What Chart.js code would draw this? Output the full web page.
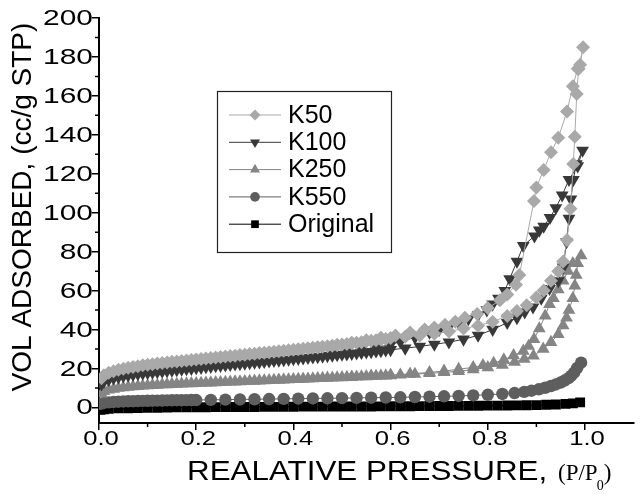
<!DOCTYPE html>
<html>
<head>
<meta charset="utf-8">
<script src="https://cdn.jsdelivr.net/npm/chart.js@4.4.0/dist/chart.umd.min.js"></script>
<style>
  html, body { margin: 0; padding: 0; background: #fff; }
  #wrap { width: 641px; height: 494px; }
</style>
</head>
<body>
<div id="wrap"><canvas id="chart" width="641" height="494"></canvas></div>
<script>
(function() {
    'use strict';

    // tick values / labels
    var xTickValues = [0, 0.2, 0.4, 0.6, 0.8, 1.0];
    var xTickLabels = ['0.0', '0.2', '0.4', '0.6', '0.8', '1.0'];
    var xMinorTicks = [0.1, 0.3, 0.5, 0.7, 0.9];
    var yTickValues = [0, 20, 40, 60, 80, 100, 120, 140, 160, 180, 200];
    var yTickLabels = ['0', '20', '40', '60', '80', '100', '120', '140', '160', '180', '200'];
    var yMinorTicks = [10, 30, 50, 70, 90, 110, 130, 150, 170, 190];

    var seriesNames = ['K50', 'K100', 'K250', 'K550', 'Original'];

    // shared low-pressure part of the adsorption runs (K50, K100, K250)
    var lowP = [0.005, 0.01, 0.02, 0.03, 0.04, 0.05, 0.06, 0.07, 0.08, 0.09, 0.10,
        0.11, 0.12, 0.13, 0.14, 0.15, 0.16, 0.17, 0.18, 0.19, 0.20,
        0.21, 0.22, 0.23, 0.24, 0.25, 0.26, 0.27, 0.28, 0.29, 0.30,
        0.31, 0.32, 0.33, 0.34, 0.35, 0.36, 0.37, 0.38, 0.39, 0.40,
        0.41, 0.42, 0.43, 0.44, 0.45, 0.46, 0.47, 0.48, 0.49, 0.50,
        0.51, 0.52, 0.53, 0.54, 0.55, 0.56, 0.57, 0.58, 0.59, 0.60];

    // K50
    var k50Low = [15, 16.5, 17.8, 18.6, 19.3, 19.9, 20.4, 20.8, 21.2, 21.6, 21.9,
        22.2, 22.5, 22.8, 23.1, 23.4, 23.6, 23.9, 24.1, 24.4, 24.6,
        24.9, 25.1, 25.4, 25.6, 25.9, 26.1, 26.4, 26.6, 26.9, 27.1,
        27.4, 27.6, 27.9, 28.1, 28.4, 28.6, 28.9, 29.1, 29.4, 29.6,
        29.9, 30.1, 30.4, 30.6, 30.9, 31.1, 31.4, 31.7, 32.0, 32.3,
        32.6, 32.9, 33.2, 33.5, 33.9, 34.2, 34.5, 34.9, 35.2, 35.6];
    var k50HighP = [0.63, 0.66, 0.69, 0.72, 0.75, 0.78, 0.81, 0.84, 0.86, 0.88,
        0.90, 0.915, 0.93, 0.945, 0.955, 0.963, 0.970, 0.976, 0.979, 0.983, 0.987, 0.996];
    var k50HighV = [36.3, 37, 37.8, 39, 40.5, 42, 44, 47, 49.5, 52.5,
        56.5, 60, 65, 70, 75, 86, 102, 125, 139, 161, 174, 185];
    var k50DesP = [0.99, 0.985, 0.975, 0.963, 0.945, 0.93, 0.915, 0.90, 0.895, 0.865, 0.858, 0.84,
        0.825, 0.80, 0.778, 0.753, 0.733, 0.712, 0.69, 0.67, 0.64, 0.61, 0.58, 0.55, 0.52, 0.49, 0.45];
    var k50DesV = [176, 174, 165, 152, 138.5, 131, 122, 113, 106, 68, 63, 58,
        55, 51, 48, 46, 44, 42.5, 41, 40, 38.5, 37, 35.8, 34.5, 33.2, 32, 30.8];

    // K100
    var k100Low = [12, 13.2, 14.3, 15.0, 15.6, 16.1, 16.5, 16.9, 17.2, 17.5, 17.8,
        18.0, 18.3, 18.5, 18.8, 19.0, 19.3, 19.5, 19.8, 20.0, 20.3,
        20.5, 20.8, 21.0, 21.3, 21.5, 21.7, 22.0, 22.2, 22.4, 22.6,
        22.9, 23.1, 23.3, 23.5, 23.8, 24.0, 24.2, 24.4, 24.7, 24.9,
        25.1, 25.3, 25.6, 25.8, 26.0, 26.2, 26.5, 26.7, 27.0, 27.2,
        27.4, 27.6, 27.9, 28.1, 28.4, 28.6, 28.9, 29.1, 29.4, 29.6];
    var k100HighP = [0.63, 0.66, 0.69, 0.72, 0.75, 0.78, 0.81, 0.84, 0.86, 0.876,
        0.893, 0.91, 0.927, 0.945, 0.955, 0.962, 0.967, 0.971, 0.976, 0.982, 0.995];
    var k100HighV = [30.4, 31.3, 32.4, 33.5, 35, 37, 40, 43.5, 46, 49,
        51.5, 56, 61, 65, 72, 85, 97, 107, 117, 125, 132];
    var k100DesP = [0.985, 0.967, 0.953, 0.94, 0.928, 0.915, 0.906, 0.896, 0.873, 0.86, 0.845, 0.835,
        0.822, 0.81, 0.798, 0.78, 0.76, 0.74, 0.72, 0.70, 0.68, 0.65, 0.62, 0.60, 0.57, 0.54, 0.51, 0.48];
    var k100DesV = [124, 117, 109, 102.5, 97.5, 93, 91, 88, 83, 75, 66, 60,
        56, 53, 50, 47.5, 45.5, 43.5, 41.5, 40, 38.5, 36, 33.8, 32.3, 30.8, 29.6, 28.5, 27.5];

    // K250
    var k250Low = [7.0, 8.3, 9.0, 9.5, 9.9, 10.2, 10.5, 10.7, 10.9, 11.1, 11.2,
        11.4, 11.5, 11.7, 11.8, 11.9, 12.0, 12.1, 12.2, 12.3, 12.4,
        12.5, 12.6, 12.7, 12.8, 12.9, 13.0, 13.1, 13.2, 13.3, 13.4,
        13.5, 13.6, 13.7, 13.8, 13.9, 14.0, 14.1, 14.2, 14.3, 14.4,
        14.5, 14.6, 14.7, 14.8, 14.9, 15.0, 15.1, 15.2, 15.3, 15.4,
        15.5, 15.6, 15.7, 15.8, 15.9, 16.0, 16.1, 16.2, 16.3, 16.4];
    var k250HighP = [0.62, 0.65, 0.68, 0.71, 0.74, 0.77, 0.80, 0.83, 0.855, 0.875, 0.894,
        0.914, 0.93, 0.945, 0.955, 0.962, 0.967, 0.975, 0.979, 0.982, 0.985, 0.992];
    var k250HighV = [16.7, 17.1, 17.5, 18, 18.6, 19.4, 20.5, 21.8, 23.3, 24.8, 26.5,
        30, 33.5, 37.5, 42, 46, 50, 56, 62.5, 68, 74, 78];
    var k250DesP = [0.975, 0.965, 0.955, 0.945, 0.935, 0.927, 0.918, 0.906, 0.895, 0.884, 0.873, 0.853,
        0.833, 0.812, 0.79, 0.77, 0.74, 0.71, 0.68, 0.64, 0.60, 0.56, 0.52];
    var k250DesV = [74, 70, 65, 60.5, 56, 53, 47, 40.5, 35, 31.5, 29, 26.7,
        24.5, 22.8, 21.6, 20.6, 19.6, 18.7, 18, 17.2, 16.6, 16.1, 15.6];

    // K550
    var k550P = [0.003, 0.01, 0.02, 0.03, 0.04, 0.05, 0.06, 0.07, 0.08, 0.09, 0.10,
        0.11, 0.12, 0.13, 0.14, 0.15, 0.16, 0.17, 0.18, 0.19, 0.20,
        0.23, 0.26, 0.29, 0.32, 0.35, 0.38, 0.41, 0.44, 0.47, 0.50, 0.53, 0.56, 0.59, 0.62, 0.65,
        0.68, 0.71, 0.74, 0.77, 0.80, 0.83, 0.855, 0.875, 0.89, 0.905, 0.918, 0.93, 0.94, 0.95,
        0.958, 0.966, 0.972, 0.978, 0.984, 0.992];
    var k550V = [1.8, 2.3, 2.6, 2.8, 2.95, 3.05, 3.15, 3.2, 3.3, 3.35, 3.4,
        3.45, 3.5, 3.55, 3.6, 3.65, 3.7, 3.72, 3.75, 3.78, 3.8,
        3.9, 4, 4.1, 4.2, 4.3, 4.4, 4.5, 4.6, 4.7, 4.8, 4.9, 5, 5.1, 5.2, 5.35,
        5.5, 5.7, 5.9, 6.2, 6.5, 6.9, 7.4, 8, 8.6, 9.3, 10.1, 11, 11.8, 12.8,
        13.8, 15, 16.3, 18, 20.3, 23];

    // Original
    var origP = [0.003, 0.01, 0.02, 0.04, 0.06, 0.08, 0.10, 0.12, 0.14, 0.16, 0.18, 0.20,
        0.22, 0.24, 0.26, 0.28, 0.30, 0.32, 0.34, 0.36, 0.38, 0.40, 0.42, 0.44, 0.46, 0.48, 0.50,
        0.52, 0.54, 0.56, 0.58, 0.60, 0.62, 0.64, 0.66, 0.68, 0.70, 0.72, 0.74, 0.76, 0.78, 0.80,
        0.82, 0.84, 0.86, 0.88, 0.90, 0.92, 0.94, 0.96, 0.975, 0.99];
    var origV = [-1.2, -0.9, -0.7, -0.5, -0.4, -0.3, -0.2, -0.15, -0.1, 0, 0.05, 0.05,
        0.1, 0.15, 0.15, 0.2, 0.25, 0.25, 0.3, 0.3, 0.3, 0.35, 0.4, 0.4, 0.4, 0.45, 0.45,
        0.5, 0.5, 0.5, 0.55, 0.6, 0.6, 0.6, 0.65, 0.7, 0.7, 0.75, 0.8, 0.8, 0.85, 0.9,
        0.9, 1.0, 1.05, 1.1, 1.2, 1.35, 1.5, 1.8, 2.1, 2.6];

    var FONT = '"Liberation Sans", Arial, sans-serif';
    var SERIF = '"Liberation Serif", "Times New Roman", serif';

    function toPoints(runs) {
        var pts = [];
        runs.forEach(function(run) {
            for (var i = 0; i < run[0].length; i++) pts.push({ x: run[0][i], y: run[1][i] });
        });
        return pts;
    }

    function makeSet(name, pts, color, style, rotation, radius) {
        return {
            label: name,
            data: pts,
            showLine: true,
            borderColor: color,
            borderWidth: 1,
            backgroundColor: color,
            pointBackgroundColor: color,
            pointBorderColor: color,
            pointBorderWidth: 0,
            pointStyle: style,
            pointRotation: rotation,
            pointRadius: radius,
            pointHoverRadius: radius,
            tension: 0
        };
    }

    var datasets = [
        makeSet(seriesNames[0], toPoints([[lowP, k50Low], [k50HighP, k50HighV], [k50DesP, k50DesV]]),
            '#a9a9a9', 'rectRot', 0, 7),
        makeSet(seriesNames[1], toPoints([[lowP, k100Low], [k100HighP, k100HighV], [k100DesP, k100DesV]]),
            '#383838', 'triangle', 180, 7.4),
        makeSet(seriesNames[2], toPoints([[lowP, k250Low], [k250HighP, k250HighV], [k250DesP, k250DesV]]),
            '#858585', 'triangle', 0, 7.4),
        makeSet(seriesNames[3], toPoints([[k550P, k550V]]), '#5e5e5e', 'circle', 0, 6.2),
        makeSet(seriesNames[4], toPoints([[origP, origV]]), '#000000', 'rect', 0, 7)
    ];

    function drawMarker(ctx, style, rotation, r, x, y, color) {
        ctx.save();
        ctx.fillStyle = color;
        ctx.beginPath();
        if (style === 'circle') {
            ctx.arc(x, y, r, 0, Math.PI * 2);
        } else if (style === 'rect') {
            var s = r * Math.SQRT1_2;
            ctx.rect(x - s, y - s, 2 * s, 2 * s);
        } else if (style === 'rectRot') {
            ctx.moveTo(x, y - r);
            ctx.lineTo(x + r, y);
            ctx.lineTo(x, y + r);
            ctx.lineTo(x - r, y);
            ctx.closePath();
        } else if (style === 'triangle') {
            var a = rotation * Math.PI / 180;
            for (var k = 0; k < 3; k++) {
                var px = x + Math.sin(a) * r, py = y - Math.cos(a) * r;
                if (k === 0) ctx.moveTo(px, py); else ctx.lineTo(px, py);
                a += Math.PI * 2 / 3;
            }
            ctx.closePath();
        }
        ctx.fill();
        ctx.restore();
    }

    function stretchedText(ctx, text, x, y, sx, align) {
        ctx.save();
        ctx.translate(x, y);
        ctx.scale(sx, 1);
        ctx.textAlign = align;
        ctx.fillText(text, 0, 0);
        ctx.restore();
    }

    // labels, titles, minor ticks and the boxed legend
    var decorPlugin = {
        id: 'decor',
        afterDraw: function(chart) {
            var ctx = chart.ctx;
            var xs = chart.scales.x, ys = chart.scales.y;
            var bottom = chart.chartArea.bottom, left = chart.chartArea.left;

            ctx.save();
            ctx.strokeStyle = '#000';
            ctx.lineWidth = 1.5;
            ctx.beginPath();
            xMinorTicks.forEach(function(v) {
                var px = xs.getPixelForValue(v);
                ctx.moveTo(px, bottom);
                ctx.lineTo(px, bottom + 4);
            });
            yMinorTicks.forEach(function(v) {
                var py = ys.getPixelForValue(v);
                ctx.moveTo(left, py);
                ctx.lineTo(left - 4, py);
            });
            ctx.stroke();

            ctx.fillStyle = '#000';
            ctx.font = '21px ' + FONT;
            ctx.textBaseline = 'alphabetic';
            xTickValues.forEach(function(v, i) {
                stretchedText(ctx, xTickLabels[i], xs.getPixelForValue(v) + 2, 445, 1.22, 'center');
            });
            ctx.font = '22px ' + FONT;
            ctx.textBaseline = 'middle';
            yTickValues.forEach(function(v, i) {
                stretchedText(ctx, yTickLabels[i], 93, ys.getPixelForValue(v) + 1, 1.36, 'right');
            });

            // y title
            ctx.save();
            ctx.translate(23, 207);
            ctx.rotate(-Math.PI / 2);
            ctx.font = '28px ' + FONT;
            ctx.textAlign = 'center';
            ctx.textBaseline = 'middle';
            ctx.fillText('VOL ADSORBED, (cc/g STP)', 0, 0);
            ctx.restore();

            // x title
            ctx.textBaseline = 'alphabetic';
            ctx.font = '28px ' + FONT;
            stretchedText(ctx, 'REALATIVE PRESSURE,', 187, 480, 1.12, 'left');
            ctx.font = '23px ' + SERIF;
            ctx.textAlign = 'left';
            ctx.fillText('(P/P', 558, 480);
            var w1 = ctx.measureText('(P/P').width;
            ctx.font = '14px ' + SERIF;
            ctx.fillText('0', 558 + w1 - 1, 490);
            var w2 = ctx.measureText('0').width;
            ctx.font = '23px ' + SERIF;
            ctx.fillText(')', 558 + w1 + w2 - 1, 480);

            // legend
            ctx.lineWidth = 1.2;
            ctx.strokeStyle = '#222';
            ctx.strokeRect(217.5, 91.5, 174, 161);
            ctx.font = '25px ' + FONT;
            ctx.textBaseline = 'middle';
            ctx.textAlign = 'left';
            chart.data.datasets.forEach(function(ds, i) {
                var cy = 115 + i * 27.3;
                ctx.strokeStyle = ds.borderColor;
                ctx.lineWidth = 1;
                ctx.beginPath();
                ctx.moveTo(229, cy);
                ctx.lineTo(281, cy);
                ctx.stroke();
                drawMarker(ctx, ds.pointStyle, ds.pointRotation, ds.pointRadius * 0.78, 255, cy, ds.pointBackgroundColor);
                ctx.fillStyle = '#000';
                ctx.fillText(ds.label, 288, cy + 1);
            });
            ctx.restore();
        }
    };

    function initChart() {
        var canvas = document.getElementById('chart');
        new Chart(canvas.getContext('2d'), {
            type: 'scatter',
            data: { datasets: datasets },
            options: {
                responsive: false,
                animation: false,
                devicePixelRatio: 1,
                layout: { padding: { top: 18, right: 1, bottom: 0, left: 0 } },
                plugins: {
                    legend: { display: false },
                    tooltip: { enabled: false }
                },
                scales: {
                    x: {
                        type: 'linear',
                        min: 0,
                        max: 1.1,
                        afterBuildTicks: function(scale) {
                            scale.ticks = xTickValues.map(function(v) { return { value: v }; });
                        },
                        afterFit: function(scale) { scale.height = 71; },
                        ticks: { display: false },
                        grid: { drawOnChartArea: false, drawTicks: true, tickLength: 7, color: '#000', lineWidth: 1.5 },
                        border: { display: true, color: '#000', width: 2 }
                    },
                    y: {
                        type: 'linear',
                        min: -8,
                        max: 200,
                        afterBuildTicks: function(scale) {
                            scale.ticks = yTickValues.map(function(v) { return { value: v }; });
                        },
                        afterFit: function(scale) { scale.width = 99; },
                        ticks: { display: false },
                        grid: { drawOnChartArea: false, drawTicks: true, tickLength: 7, color: '#000', lineWidth: 1.5 },
                        border: { display: true, color: '#000', width: 2 }
                    }
                }
            },
            plugins: [decorPlugin]
        });
    }

    document.addEventListener('DOMContentLoaded', initChart);
})();
</script>
</body>
</html>
